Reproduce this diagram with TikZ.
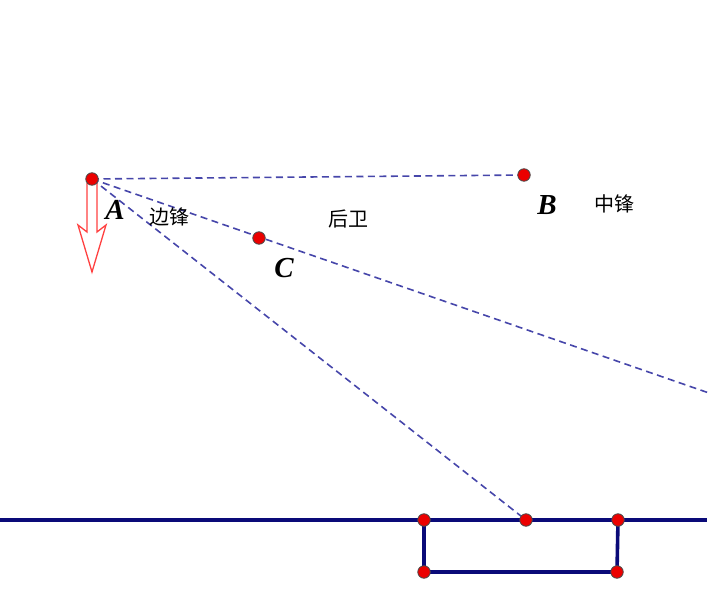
\documentclass[tikz,border=0pt]{standalone}
\usepackage{fontspec}
\newfontfamily\cjk{Noto Sans CJK SC}
\newfontfamily\lab{Liberation Serif}
\definecolor{dashblue}{RGB}{70,70,170}
\definecolor{navy}{RGB}{10,10,120}
\definecolor{ptred}{RGB}{235,0,0}
\begin{document}
\begin{tikzpicture}[x=1pt,y=-1pt,
  dashl/.style={draw=dashblue,line width=1.6pt,dash pattern=on 7pt off 4.5pt},
  goalline/.style={draw=navy,line width=3.6pt},
  pt/.style={circle,fill=ptred,draw=black!70,line width=0.8pt,inner sep=0pt,minimum size=12.5pt},
  letter/.style={font=\lab\bfseries\itshape\fontsize{29}{29}\selectfont,text=black,inner sep=0pt},
  cn/.style={font=\cjk\fontsize{20}{20}\selectfont,inner sep=0pt}]
\useasboundingbox (0,0) rectangle (709,612);
% coordinates
\coordinate (A) at (92,179);
\coordinate (B) at (524,175);
\coordinate (C) at (259,238);
\coordinate (D) at (526,520);
\coordinate (E) at (709,393);
\coordinate (L0) at (0,520);
\coordinate (L1) at (707,520);
\coordinate (G1) at (424,520);
\coordinate (G2) at (618,520);
\coordinate (G3) at (424,572);
\coordinate (G4) at (617,572);
% dashed lines
\draw[dashl] (A) -- (B);
\draw[dashl] (A) -- (E);
\draw[dashl] (A) -- (D);
% goal line and goal
\draw[goalline] (L0) -- (L1);
\draw[goalline] (G1) -- (G3) -- (G4) -- (G2);
% red arrow
\draw[draw=red!75,line width=1.3pt,line join=miter]
  (87,183) -- (87,232) -- (78,225) -- (92,272) -- (106,225) -- (97,232) -- (97,183);
% points
\node[pt] (pA) at (A) {};
\node[pt] (pB) at (B) {};
\node[pt] (pC) at (C) {};
\node[pt] (pD) at (D) {};
\node[pt] (pG1) at (G1) {};
\node[pt] (pG2) at (G2) {};
\node[pt] (pG3) at (G3) {};
\node[pt] (pG4) at (G4) {};
% labels
\node[letter] (lA) at (115,210) {A};
\node[letter] (lB) at (547,205) {B};
\node[letter] (lC) at (284,268) {C};
\node[cn] (t1) at (169,217) {边锋};
\node[cn] (t2) at (348,219) {后卫};
\node[cn] (t3) at (614,204) {中锋};
\end{tikzpicture}
\end{document}
